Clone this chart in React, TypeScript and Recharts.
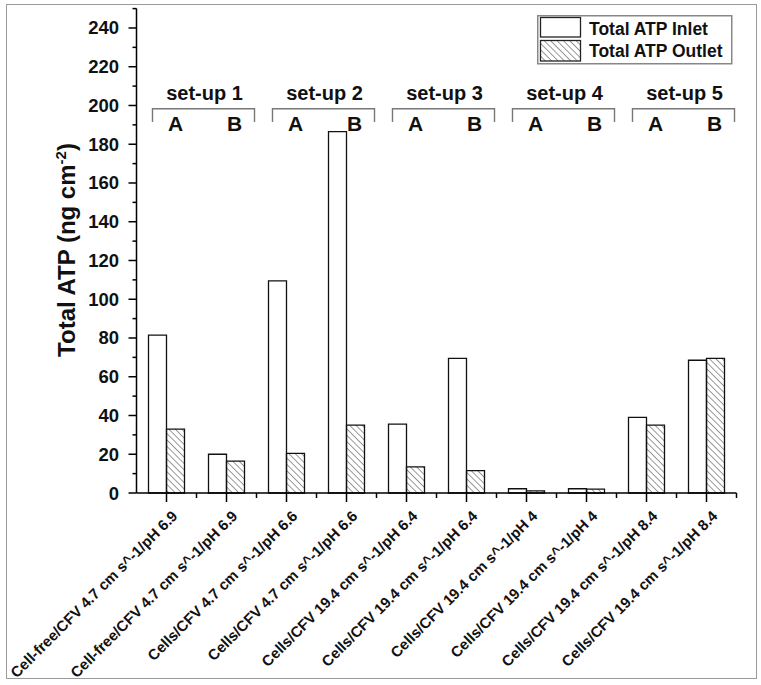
import React from 'react';
import { BarChart, Bar, XAxis, YAxis, Legend } from 'recharts';

const categories = [
  'Cell-free/CFV 4.7 cm s^-1/pH 6.9',
  'Cell-free/CFV 4.7 cm s^-1/pH 6.9',
  'Cells/CFV 4.7 cm s^-1/pH 6.6',
  'Cells/CFV 4.7 cm s^-1/pH 6.6',
  'Cells/CFV 19.4 cm s^-1/pH 6.4',
  'Cells/CFV 19.4 cm s^-1/pH 6.4',
  'Cells/CFV 19.4 cm s^-1/pH 4',
  'Cells/CFV 19.4 cm s^-1/pH 4',
  'Cells/CFV 19.4 cm s^-1/pH 8.4',
  'Cells/CFV 19.4 cm s^-1/pH 8.4',
];
const inletValues = [81.5, 20, 109.5, 186.5, 35.5, 69.5, 2.2, 2.2, 39, 68.5];
const outletValues = [33, 16.5, 20.5, 35, 13.5, 11.5, 1.1, 2, 35, 69.5];
const seriesNames = ['Total ATP Inlet', 'Total ATP Outlet'];
const setupLabels = ['set-up 1', 'set-up 2', 'set-up 3', 'set-up 4', 'set-up 5'];
const pairLetters = ['A', 'B'];
const yTicks = [0, 10, 20, 30, 40, 50, 60, 70, 80, 90, 100, 110, 120, 130, 140, 150, 160, 170, 180, 190, 200, 210, 220, 230, 240, 250];

const data = categories.map((c, i) => ({ id: String(i), label: c, inlet: inletValues[i], outlet: outletValues[i] }));

const FONT = "'Liberation Sans', Arial, Helvetica, sans-serif";
const BW = 60;

function XTick(props: any) {
  const { x, y, index } = props;
  const label = categories[index];
  const isA = index % 2 === 0;
  const setup = Math.floor(index / 2);
  return (
    <g>
      <line x1={x} y1={y} x2={x} y2={y + 9} stroke="#000" strokeWidth={1.5} />
      <line x1={x + BW / 2} y1={y} x2={x + BW / 2} y2={y + 5} stroke="#000" strokeWidth={1.5} />
      <text
        transform={`translate(${x + 12},${y + 24}) rotate(-45)`}
        textAnchor="end"
        fontSize={15}
        fontWeight="bold"
        fontFamily={FONT}
        fill="#111"
      >
        {label}
      </text>
      <text x={x + (isA ? 9 : 8)} y={131} textAnchor="middle" fontSize={21} fontWeight="bold" fontFamily={FONT} fill="#111">
        {pairLetters[index % 2]}
      </text>
      {isA && (
        <g>
          <path d={`M${x - 14},122 V108.7 H${x + BW + 28} V122`} fill="none" stroke="#777" strokeWidth={1.4} />
          <text x={x + BW / 2 + 8} y={100} textAnchor="middle" fontSize={20} fontWeight="bold" fontFamily={FONT} fill="#111">
            {setupLabels[setup]}
          </text>
        </g>
      )}
    </g>
  );
}

function YTick(props: any) {
  const { x, y, payload } = props;
  const v = payload.value;
  const major = v % 20 === 0;
  return (
    <g>
      <line x1={x} y1={y} x2={x - (major ? 8 : 4)} y2={y} stroke="#000" strokeWidth={1.5} />
      {major && v <= 240 && (
        <text x={x - 17.5} y={y + 6.5} textAnchor="end" fontSize={18.5} fontWeight="bold" fontFamily={FONT} fill="#111">
          {v}
        </text>
      )}
    </g>
  );
}

function LegendBox() {
  return (
    <svg width={196} height={50} style={{ display: 'block' }}>
      <defs>
        <pattern id="hatchLegend" width="4.5" height="4.5" patternUnits="userSpaceOnUse" patternTransform="rotate(-45)">
          <line x1="0" y1="0" x2="0" y2="4.5" stroke="#333" strokeWidth="1" />
        </pattern>
      </defs>
      <rect x={0.75} y={0.75} width={194} height={48} fill="#fff" stroke="#888" strokeWidth={1.5} />
      <rect x={3.5} y={2.5} width={40} height={19.5} fill="#fff" stroke="#222" strokeWidth={1.3} />
      <rect x={3.5} y={25.5} width={40} height={20.5} fill="url(#hatchLegend)" stroke="#222" strokeWidth={1.3} />
      <text x={52} y={19.5} fontSize={17.5} fontWeight="bold" fontFamily={FONT} fill="#111">{seriesNames[0]}</text>
      <text x={52} y={42} fontSize={17.5} fontWeight="bold" fontFamily={FONT} fill="#111">{seriesNames[1]}</text>
    </svg>
  );
}

export default function App() {
  return (
    <div style={{ position: 'absolute', left: 0, top: 0, width: 761, height: 685, background: '#fff' }}>
      <div
        style={{
          position: 'absolute',
          left: 6,
          top: 4,
          width: 751,
          height: 675,
          border: '1.5px solid #9a9a9a',
          boxSizing: 'border-box',
        }}
      />
      <div style={{ position: 'absolute', left: 0, top: 0 }}>
        <BarChart
          width={761}
          height={685}
          data={data}
          margin={{ top: 8.6, right: 24.5, bottom: 162, left: 76.5 }}
          barGap={0}
          barSize={18}
        >
          <defs>
            <pattern id="hatch" width="4.5" height="4.5" patternUnits="userSpaceOnUse" patternTransform="rotate(-45)">
              <line x1="0" y1="0" x2="0" y2="4.5" stroke="#333" strokeWidth="1" />
            </pattern>
          </defs>
          <XAxis
            dataKey="id"
            height={30}
            interval={0}
            tickLine={false}
            tickSize={0}
            tickMargin={0}
            axisLine={{ stroke: '#000', strokeWidth: 1.5 }}
            tick={<XTick />}
          />
          <YAxis
            width={60}
            domain={[0, 250]}
            ticks={yTicks}
            interval={0}
            tickLine={false}
            tickSize={0}
            tickMargin={0}
            axisLine={{ stroke: '#000', strokeWidth: 1.5 }}
            tick={<YTick />}
            label={{
              content: () => (
                <text
                  transform="translate(75,250) rotate(-90)"
                  textAnchor="middle"
                  fontSize={24}
                  fontWeight="bold"
                  fontFamily={FONT}
                  fill="#111"
                >
                  Total ATP (ng cm
                  <tspan dy={-9} fontSize={15}>-2</tspan>
                  <tspan dy={9}>)</tspan>
                </text>
              ),
            }}
          />
          <Legend
            layout="vertical"
            align="center"
            verticalAlign="middle"
            wrapperStyle={{ position: 'absolute', left: 537, top: 15, width: 196, height: 50 }}
            content={() => <LegendBox />}
          />
          <Bar dataKey="inlet" name={seriesNames[0]} fill="#fff" stroke="#111" strokeWidth={1.3} isAnimationActive={false} />
          <Bar dataKey="outlet" name={seriesNames[1]} fill="url(#hatch)" stroke="#111" strokeWidth={1.3} isAnimationActive={false} />
        </BarChart>
      </div>
    </div>
  );
}
